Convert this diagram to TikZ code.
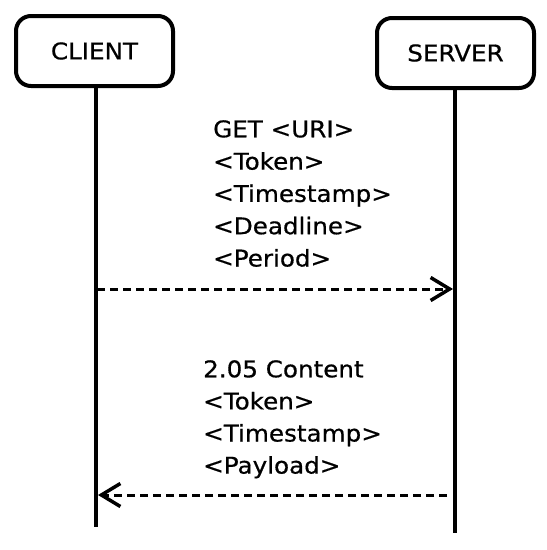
\documentclass[tikz,border=0pt]{standalone}
\usepackage{fontspec}
\setmainfont{DejaVu Sans}[FakeStretch=1.07,FakeBold=0.6]
\usetikzlibrary{arrows.meta}
\begin{document}
\begin{tikzpicture}[x=1pt,y=-1pt,
  actor/.style={draw,line width=4pt,rounded corners=15pt,minimum width=157pt,minimum height=70pt,inner sep=0pt,font=\fontsize{23}{28}\selectfont},
  lifeline/.style={line width=4pt},
  msg/.style={line width=3pt,dash pattern=on 8pt off 5pt,-{Straight Barb[length=19pt,width=23pt,line width=3.5pt]}},
  lbl/.style={anchor=base west,inner sep=0pt,font=\fontsize{23}{28}\selectfont}]
\useasboundingbox (0,0) rectangle (547,550);
\node[actor] (client) at (94.5,51) {CLIENT};
\node[actor] (server) at (455.5,53) {SERVER};
\coordinate (cend) at (95.5,527);
\coordinate (send) at (455,533);
\draw[lifeline] (client.south -| cend) -- (cend);
\draw[lifeline] (server.south -| send) -- (send);
\coordinate (c1) at (97,289);
\coordinate (s1) at (453,289);
\coordinate (s2) at (447,495);
\coordinate (c2) at (98,495);
\draw[msg] (c1) -- (s1);
\draw[msg] (s2) -- (c2);
\foreach \t [count=\i] in {GET <URI>,<Token>,<Timestamp>,<Deadline>,<Period>}
  \node[lbl] (req\i) at (213,{137.3+32.3*(\i-1)}) {\t};
\foreach \t [count=\i] in {2.05 Content,<Token>,<Timestamp>,<Payload>}
  \node[lbl] (resp\i) at (203,{377.3+32.1*(\i-1)}) {\t};
\end{tikzpicture}
\end{document}
